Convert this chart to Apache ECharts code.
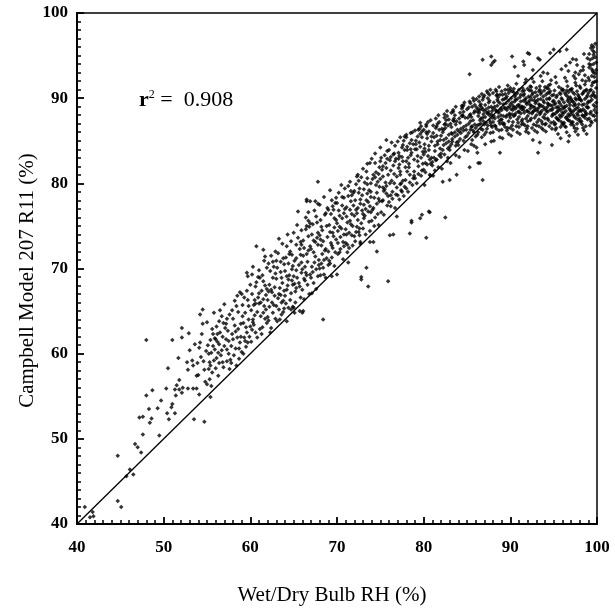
<!DOCTYPE html>
<html>
<head>
<meta charset="utf-8">
<script src="https://cdn.jsdelivr.net/npm/echarts@6/dist/echarts.min.js"></script>
<style>
  html, body { margin: 0; padding: 0; background: #fff; }
  #chart { width: 615px; height: 611px; }
</style>
</head>
<body>
<div id="chart"></div>
<script>
// Axis range and tick labels (same for both axes)
const axisMin = 40;
const axisMax = 100;
const tickStep = 10;
const tickLabels = ['40', '50', '60', '70', '80', '90', '100'];

// 1:1 reference line end points
const identityEnds = [40, 100];

// Coefficient of determination shown on the plot
const rSquared = '0.908';

// Paired readings, listed as x (wet/dry bulb RH), y (Campbell RH), x, y, ...
const obs40s = [
  40.9,42.0, 41.5,40.8, 41.8,41.4, 41.9,40.9, 44.7,48.0, 44.7,42.7, 45.1,42.0, 45.7,45.6, 46.5,45.8, 46.1,46.4,
  47.0,49.0, 46.7,49.4, 47.4,48.4, 47.6,50.5, 47.2,52.5, 47.6,52.6, 48.0,55.1, 48.7,55.7, 48.0,61.6, 48.3,53.5,
  48.4,51.9, 48.6,52.4, 49.3,53.6, 49.5,50.4, 49.7,54.5
];
const obs50s = [
  50.3,55.9, 50.5,58.3, 50.4,53.0, 50.6,52.3, 51.0,61.6, 50.9,53.7, 51.0,54.1, 51.3,55.8, 51.4,55.1, 51.3,53.0,
  51.5,56.3, 51.7,59.5, 51.8,55.8, 51.8,56.9, 52.1,63.0, 52.1,61.9, 52.1,55.4, 52.2,56.0, 52.7,59.0, 52.8,58.1,
  52.9,62.4, 52.8,55.9, 53.4,55.9, 53.8,55.9, 53.3,59.2, 53.4,58.6, 53.8,57.4, 54.0,57.5, 53.5,52.3, 54.2,64.6,
  54.5,65.2, 54.2,61.3, 54.1,60.7, 54.3,59.6, 54.1,55.2, 54.7,52.0, 54.8,56.7, 54.7,58.1, 53.0,60.4, 53.6,61.1,
  54.4,62.3, 54.6,59.1, 53.9,58.9,
  55.0,56.4, 55.4,54.9, 55.2,58.2, 55.3,57.0, 55.3,59.0, 55.5,60.1, 55.7,62.3, 55.7,60.9, 55.9,60.5, 56.1,59.5,
  56.3,60.1, 56.5,62.5, 56.7,64.4, 56.7,60.4, 56.9,63.6, 57.2,61.7, 57.3,60.5, 57.4,62.7, 57.7,59.3, 57.8,60.9,
  58.0,61.7, 58.0,64.1, 58.4,65.6, 58.6,62.9, 58.8,61.3, 58.9,62.0, 59.2,63.6, 59.4,64.8, 59.6,62.5, 59.7,61.3,
  55.1,61.0, 55.4,58.6, 55.6,57.8, 55.8,59.2, 55.9,61.8, 56.0,58.3, 56.1,63.2, 56.2,61.4, 56.4,58.9, 56.4,61.1,
  56.6,59.8, 56.8,62.0, 56.9,58.4, 57.0,60.9, 57.1,63.0, 57.3,59.1, 57.5,61.5, 57.6,64.6, 57.6,58.2, 57.9,62.3,
  58.1,59.8, 58.2,63.3, 58.3,60.6, 58.5,61.9, 58.6,64.9, 58.7,59.4, 58.9,63.5, 59.0,60.2, 59.1,65.7, 59.3,61.9,
  59.5,60.8, 59.5,63.1, 59.7,66.3, 59.8,64.0, 59.9,62.0, 55.5,56.2, 56.3,57.4, 57.8,58.9, 58.4,58.6, 59.2,60.0,
  56.5,65.1, 57.3,64.1, 58.2,66.2, 59.0,67.0, 59.6,67.4, 55.0,63.7, 55.8,64.8, 59.6,69.5, 58.8,67.2, 59.7,69.1,
  55.2,60.0, 55.6,62.9, 56.0,61.7, 56.4,63.8, 56.8,59.0, 57.2,63.5, 57.5,60.0, 57.9,65.1, 58.3,62.6, 58.7,60.6,
  59.1,64.4, 59.4,61.5, 59.8,65.6, 59.3,66.6, 58.5,66.8, 57.0,65.8, 56.2,62.3, 55.4,61.6, 54.9,60.3, 54.5,63.5
];
const obs60s = [
  60.0,63.2, 60.3,64.0, 60.6,62.5, 60.0,68.1, 60.2,67.0, 60.7,72.6, 60.1,61.4, 60.4,65.7, 60.5,66.3, 60.8,64.9,
  60.9,69.0, 60.2,62.8, 60.6,67.9, 60.3,70.2, 60.8,61.9, 60.1,65.1, 60.9,66.6, 60.4,63.4, 60.7,68.4, 60.5,64.5,
  60.2,69.3, 61.1,62.9, 61.5,64.8, 61.9,63.6, 61.5,68.5, 61.5,72.2, 61.9,70.1, 61.2,66.0, 61.3,67.4, 61.6,65.6,
  61.8,66.9, 61.0,69.8, 61.4,63.1, 61.7,68.0, 61.2,64.4, 61.9,67.6, 61.6,70.9, 61.3,62.3, 61.8,65.2, 61.0,67.1,
  61.5,66.4, 61.7,71.4, 61.1,68.9, 62.3,62.5, 62.4,63.0, 62.6,64.8, 62.0,66.3, 62.2,68.1, 62.5,67.2, 62.7,65.7,
  62.9,69.4, 62.1,70.6, 62.8,66.8, 62.4,71.5, 62.6,68.9, 62.0,64.3, 62.9,64.1, 62.2,65.5, 62.7,70.2, 62.5,66.0,
  62.3,69.7, 62.8,67.8, 62.1,67.3, 62.9,72.0, 63.1,63.8, 63.3,65.2, 63.5,66.9, 63.7,68.3, 63.9,70.5, 63.2,71.8,
  63.4,67.7, 63.6,64.6, 63.8,66.2, 63.0,68.8, 63.5,69.6, 63.9,67.4, 63.2,66.5, 63.7,72.9, 63.1,70.1, 63.4,64.0,
  63.8,71.2, 63.6,68.9, 63.3,73.5, 63.0,65.6, 63.9,65.3, 63.5,70.8, 64.2,63.8, 64.2,72.6, 64.0,66.8, 64.3,68.0,
  64.5,69.2, 64.7,67.1, 64.9,70.3, 64.1,71.3, 64.4,65.4, 64.6,72.0, 64.8,68.6, 64.0,69.7, 64.3,74.0, 64.6,66.3,
  64.9,65.5, 64.5,71.7, 64.7,73.2, 64.2,67.5, 64.8,69.9, 64.4,70.6, 64.1,65.9, 64.9,68.1,
  65.0,65.4, 65.1,64.8, 65.7,65.0, 66.0,64.8, 66.1,65.0, 65.5,76.7, 66.5,78.1, 66.5,75.0, 67.8,80.2, 66.5,77.9,
  66.7,76.6, 67.8,77.6, 66.9,77.9, 68.0,77.5, 65.0,74.2, 68.4,64.0, 69.4,69.1, 69.5,74.2,
  65.2,67.3, 65.4,68.9, 65.6,70.4, 65.8,71.6, 65.3,72.8, 65.9,69.5, 65.1,70.9, 65.7,67.9, 65.5,73.6, 65.0,69.1,
  65.8,66.6, 65.3,71.2, 65.6,68.3, 65.9,74.5, 65.2,66.0, 65.4,75.1, 65.7,72.3, 65.1,68.2, 65.9,70.7,
  66.0,67.5, 66.3,70.2, 66.2,72.4, 66.7,73.8, 66.9,69.3, 66.1,71.5, 66.4,74.6, 66.6,68.1, 66.8,67.0, 66.2,66.4,
  66.4,76.0, 66.6,70.8, 66.9,72.6, 66.0,69.9, 66.3,68.6, 66.8,74.9, 66.5,71.7, 66.1,73.3, 66.7,75.6, 66.5,69.2,
  67.0,68.9, 67.3,71.9, 67.2,69.6, 67.5,73.1, 67.7,75.4, 67.9,70.4, 67.1,74.0, 67.4,76.8, 67.6,67.6, 67.8,72.8,
  67.3,68.3, 67.5,77.9, 67.9,71.0, 67.0,72.3, 67.6,69.9, 67.2,75.2, 67.8,74.2, 67.4,70.7, 67.1,67.1, 67.7,73.6,
  67.5,71.4, 68.0,70.0, 68.2,72.7, 68.5,69.3, 68.3,74.5, 68.6,76.3, 68.8,71.2, 68.1,75.7, 68.4,73.2, 68.7,68.9,
  68.9,77.1, 68.2,70.6, 68.6,72.1, 68.0,73.9, 68.8,75.0, 68.5,78.4, 68.3,71.7, 68.9,73.7, 68.1,69.2, 68.7,76.5,
  68.4,70.1, 69.0,70.4, 69.3,73.0, 69.1,75.1, 69.6,76.9, 69.8,71.9, 69.2,74.3, 69.4,78.0, 69.7,70.3, 69.5,72.4,
  69.9,75.7, 69.2,79.2, 69.0,72.0, 69.6,73.8, 69.8,77.7, 69.3,76.4, 69.1,70.9, 69.9,73.4, 69.4,71.3, 69.7,74.8,
  69.5,77.3,
  60.6,65.9, 61.4,69.2, 62.1,63.9, 62.6,70.8, 63.3,67.0, 63.8,64.9, 64.4,68.7, 64.8,71.6, 65.3,69.8, 65.8,73.1,
  66.2,68.8, 66.7,72.1, 67.1,70.2, 67.6,76.1, 68.1,73.4, 68.5,71.0, 69.0,76.9, 69.4,72.7, 69.9,78.3,
  60.3,63.7, 61.0,65.9, 61.7,64.1, 62.4,67.5, 63.0,70.9, 63.6,66.0, 64.2,69.1, 64.7,65.2, 65.3,67.7, 65.9,72.8,
  66.4,69.5, 66.9,75.3, 67.3,73.3, 67.8,69.1, 68.2,74.9, 68.7,72.3, 69.2,70.6, 69.7,75.9
];
const obs70s = [
  70.0,69.3, 71.3,70.7, 72.8,68.7, 72.8,69.0, 73.4,70.1, 73.6,67.9, 74.6,72.0, 72.7,73.1, 74.2,73.1, 73.8,73.1,
  71.5,80.2, 72.4,81.0, 73.8,82.4, 72.3,80.8, 70.0,77.7, 72.7,78.1,
  70.1,71.7, 70.4,73.7, 70.3,76.2, 70.6,77.4, 70.8,72.6, 70.2,78.9, 70.5,74.7, 70.7,71.1, 70.9,79.4, 70.0,75.3,
  70.6,75.9, 70.4,72.3, 70.8,74.0, 70.2,76.8, 70.9,77.0, 70.5,79.8, 70.1,74.4, 70.7,73.1, 70.3,71.9, 70.8,78.3,
  71.0,73.0, 71.2,75.4, 71.5,76.9, 71.3,78.5, 71.7,73.9, 71.9,77.4, 71.1,76.1, 71.4,72.4, 71.6,79.1, 71.8,75.0,
  71.2,72.8, 71.6,77.9, 71.0,74.6, 71.9,78.9, 71.4,74.2, 71.7,76.4, 71.3,79.7, 71.8,72.7, 71.1,77.2, 71.5,75.6,
  72.0,73.8, 72.3,76.5, 72.1,78.0, 72.6,79.4, 72.8,75.3, 72.2,74.3, 72.4,77.1, 72.7,72.9, 72.5,80.3, 72.9,76.8,
  72.2,79.9, 72.6,74.7, 72.0,76.2, 72.9,78.6, 72.4,75.7, 72.7,77.6, 72.1,73.2, 72.5,78.9, 72.8,80.7, 72.3,74.9,
  73.0,74.7, 73.3,77.0, 73.1,79.3, 73.5,80.6, 73.7,75.5, 73.9,78.4, 73.2,76.2, 73.4,81.4, 73.6,77.8, 73.8,74.4,
  73.1,75.9, 73.5,78.8, 73.9,80.0, 73.0,81.7, 73.7,79.2, 73.3,74.0, 73.6,76.7, 73.2,80.1, 73.8,77.3, 73.4,78.0,
  74.0,75.6, 74.3,78.3, 74.1,80.5, 74.5,81.3, 74.7,76.4, 74.9,79.6, 74.2,77.1, 74.4,82.4, 74.6,78.9, 74.8,75.1,
  74.1,76.9, 74.5,79.8, 74.9,81.9, 74.0,82.9, 74.7,80.2, 74.3,75.0, 74.6,77.6, 74.2,81.0, 74.8,78.2, 74.4,83.5,
  75.0,84.2, 77.3,85.4, 77.8,85.5, 79.6,87.1, 75.7,85.1, 78.0,85.7, 79.8,86.1, 75.9,68.5, 76.5,74.0, 76.1,73.9,
  76.9,76.1, 78.6,75.4, 78.4,74.1, 79.8,76.3, 79.6,75.9, 77.3,79.9, 78.6,75.6,
  75.1,76.6, 75.4,79.1, 75.2,81.6, 75.6,82.4, 75.8,77.4, 75.0,80.5, 75.3,78.0, 75.5,83.3, 75.7,79.7, 75.9,81.0,
  75.2,77.9, 75.6,80.1, 75.0,82.6, 75.8,83.8, 75.4,76.3, 75.3,80.8, 75.9,78.5, 75.5,79.3, 75.1,83.0, 75.7,81.8,
  76.0,77.8, 76.3,80.3, 76.1,82.7, 76.6,83.5, 76.8,78.7, 76.2,81.5, 76.4,79.0, 76.7,84.4, 76.9,80.8, 76.5,82.1,
  76.2,77.3, 76.6,81.1, 76.0,83.9, 76.8,82.9, 76.4,78.2, 76.3,84.8, 76.9,79.5, 76.1,80.0, 76.7,77.1, 76.5,83.4,
  77.0,78.6, 77.3,81.4, 77.1,83.6, 77.6,84.5, 77.8,79.6, 77.2,82.2, 77.4,80.0, 77.7,85.0, 77.9,81.9, 77.5,83.1,
  77.2,78.1, 77.6,82.6, 77.0,84.9, 77.8,83.9, 77.4,79.2, 77.3,81.0, 77.9,80.4, 77.1,82.9, 77.7,78.5, 77.5,84.2,
  78.0,79.4, 78.3,82.3, 78.1,84.3, 78.6,85.1, 78.8,80.6, 78.2,83.0, 78.4,81.0, 78.7,86.0, 78.9,82.8, 78.5,84.0,
  78.2,79.0, 78.6,83.6, 78.0,85.4, 78.8,84.6, 78.4,80.1, 78.3,81.9, 78.9,81.4, 78.1,83.9, 78.7,79.8, 78.5,85.9,
  79.0,80.6, 79.3,83.2, 79.1,85.0, 79.6,85.8, 79.8,81.5, 79.2,84.0, 79.4,82.0, 79.7,86.7, 79.9,83.7, 79.5,84.8,
  79.2,80.0, 79.6,84.3, 79.0,86.2, 79.8,85.4, 79.4,81.1, 79.3,82.6, 79.9,82.3, 79.1,84.6, 79.7,80.9, 79.5,86.4,
  70.3,74.9, 70.8,76.5, 71.2,71.9, 71.7,78.6, 72.2,76.9, 72.6,73.9, 73.1,77.5, 73.5,79.9, 73.9,76.6, 74.4,80.7,
  74.9,77.9, 75.3,82.0, 75.7,78.8, 76.2,83.1, 76.6,80.0, 77.1,81.8, 77.5,79.0, 78.0,82.6, 78.4,84.7, 78.9,80.9,
  79.3,85.5, 79.7,83.0,
  70.1,73.0, 70.6,78.4, 71.1,74.0, 71.6,75.2, 72.0,79.1, 72.5,74.3, 73.0,76.4, 73.5,82.3, 73.9,79.0, 74.4,76.0,
  74.8,81.1, 75.3,79.5, 75.8,82.9, 76.2,78.6, 76.7,82.6, 77.2,83.2, 77.6,80.3, 78.1,81.4, 78.5,83.3, 79.0,84.0,
  79.4,86.3
];
const obs80s = [
  80.3,86.7, 80.7,76.6, 80.3,73.6, 80.6,76.7, 82.5,76.0, 82.2,80.2, 83.0,80.4, 83.8,81.0, 83.2,88.3, 82.7,87.9,
  84.5,89.0,
  80.0,81.6, 80.2,83.7, 80.4,85.3, 80.6,86.1, 80.8,82.3, 80.1,84.6, 80.5,87.2, 80.7,81.0, 80.9,84.9, 80.3,86.0,
  80.2,82.4, 80.6,83.9, 80.8,80.9, 80.4,85.8, 80.0,86.3, 80.5,83.2, 80.9,83.0, 80.1,84.1, 80.7,82.8, 80.1,79.8,
  80.8,87.4, 80.3,86.9, 81.0,82.5, 81.3,84.4, 81.1,85.9, 81.6,87.0, 81.8,83.3, 81.2,85.4, 81.4,87.6, 81.7,81.9,
  81.9,85.1, 81.5,86.7, 81.2,83.0, 81.6,84.6, 81.0,82.1, 81.8,86.3, 81.4,86.5, 81.3,83.8, 81.9,84.1, 81.5,85.6,
  81.7,88.0, 81.1,80.9, 81.6,84.9, 81.4,82.7, 82.0,83.5, 82.3,85.1, 82.1,86.4, 82.6,87.4, 82.8,84.1, 82.2,86.0,
  82.4,88.1, 82.7,82.6, 82.9,85.7, 82.5,87.0, 82.2,83.9, 82.6,85.3, 82.0,83.1, 82.8,86.8, 82.4,86.9, 82.3,84.5,
  82.9,84.9, 82.5,86.5, 82.7,88.5, 82.1,81.7, 82.6,84.7, 82.4,87.7, 83.0,84.3, 83.3,85.8, 83.1,87.0, 83.6,88.0,
  83.8,84.8, 83.2,86.6, 83.4,88.6, 83.7,83.3, 83.9,86.3, 83.5,87.6, 83.2,84.6, 83.6,86.0, 83.0,83.9, 83.8,87.3,
  83.4,87.4, 83.3,85.2, 83.9,85.7, 83.5,87.3, 83.7,89.0, 83.1,82.4, 83.6,85.5, 83.4,88.4, 84.0,84.9, 84.3,86.4,
  84.1,87.6, 84.6,88.4, 84.8,85.4, 84.2,87.1, 84.4,89.1, 84.7,83.9, 84.9,86.8, 84.5,88.0, 84.2,85.2, 84.6,86.6,
  84.0,84.5, 84.8,87.7, 84.4,87.9, 84.3,85.9, 84.9,86.3, 84.5,87.9, 84.7,89.5, 84.1,83.1, 84.6,86.2, 84.4,88.8,
  80.2,81.3, 80.6,84.4, 81.1,86.8, 81.5,82.8, 82.0,85.6, 82.4,83.4, 82.9,87.5, 83.3,84.9, 83.7,86.9, 84.2,88.3,
  84.6,85.0, 80.0,83.4, 80.4,82.2, 80.9,85.5, 81.3,81.5, 81.8,87.2, 82.3,86.3, 82.8,83.0, 83.2,85.9, 83.7,84.4,
  84.1,86.1, 84.6,89.2,
  85.3,81.9, 86.3,82.4, 86.8,80.4, 86.5,82.4, 88.8,83.6, 86.8,89.8, 88.8,90.4, 85.3,92.8, 86.8,94.5, 87.8,94.9,
  87.8,93.9, 88.2,94.4, 88.0,94.2, 89.7,91.0,
  85.0,85.6, 85.2,87.0, 85.4,88.1, 85.6,89.0, 85.8,86.0, 85.1,87.7, 85.3,89.6, 85.5,84.6, 85.7,87.4, 85.9,88.5,
  85.2,85.9, 85.4,87.3, 85.6,85.1, 85.8,88.3, 85.0,88.7, 85.5,86.6, 85.9,86.9, 85.3,88.0, 85.7,90.0, 85.1,83.8,
  85.6,86.7, 85.4,89.4, 85.8,84.4, 86.0,86.5, 86.3,87.9, 86.1,88.9, 86.6,89.3, 86.8,86.3, 86.2,88.4, 86.4,90.2,
  86.7,85.4, 86.9,88.1, 86.5,89.1, 86.2,86.8, 86.6,87.6, 86.0,85.5, 86.8,88.7, 86.4,89.6, 86.3,86.0, 86.9,87.3,
  86.5,88.6, 86.7,90.5, 86.1,84.2, 86.6,87.0, 86.4,88.3, 86.2,83.6, 87.0,86.9, 87.3,88.3, 87.1,89.2, 87.6,89.7,
  87.8,86.8, 87.2,88.7, 87.4,90.6, 87.7,85.9, 87.9,88.5, 87.5,89.5, 87.2,87.1, 87.6,88.0, 87.0,85.7, 87.8,89.0,
  87.4,90.0, 87.3,86.4, 87.9,87.7, 87.5,88.9, 87.7,91.0, 87.1,84.6, 87.6,87.4, 87.4,88.2, 87.0,90.3, 87.8,84.9,
  88.0,87.2, 88.3,88.6, 88.1,89.5, 88.6,90.1, 88.8,87.0, 88.2,89.0, 88.4,90.8, 88.7,86.2, 88.9,88.8, 88.5,89.8,
  88.2,87.6, 88.6,88.3, 88.0,86.0, 88.8,89.4, 88.4,90.3, 88.3,86.7, 88.9,88.0, 88.5,89.1, 88.7,91.3, 88.1,85.0,
  88.6,87.8, 88.4,88.5, 88.0,90.6, 88.8,85.4, 89.0,87.5, 89.3,88.9, 89.1,89.8, 89.6,90.2, 89.8,87.3, 89.2,89.3,
  89.4,91.0, 89.7,86.5, 89.9,89.0, 89.5,90.0, 89.2,87.9, 89.6,88.6, 89.0,86.3, 89.8,89.7, 89.4,90.5, 89.3,87.0,
  89.9,88.2, 89.5,89.4, 89.7,91.5, 89.1,85.3, 89.6,88.0, 89.4,88.8, 89.0,90.8, 89.8,85.8,
  85.4,86.3, 85.9,89.2, 86.2,85.7, 86.5,87.4, 86.9,90.1, 87.2,86.0, 87.5,88.4, 87.9,86.6, 88.1,87.9, 88.3,91.0,
  88.7,87.3, 89.0,88.6, 89.2,86.9, 89.5,87.8, 89.8,90.6,
  85.2,88.9, 85.7,86.2, 86.1,89.9, 86.4,86.9, 86.7,88.9, 87.1,87.8, 87.3,90.8, 87.7,87.1, 88.0,88.8, 88.4,86.4,
  88.6,89.6, 88.9,87.5, 89.1,90.4, 89.4,86.6, 89.7,88.9,
  85.5,87.8, 85.8,89.7, 86.3,88.7, 86.6,86.4, 86.8,87.7, 87.0,88.5, 87.4,86.8, 87.6,90.4, 87.8,88.1, 88.2,86.8,
  88.5,90.4, 88.7,88.4, 89.1,87.1, 89.3,89.9, 89.6,86.2, 89.9,88.0
];
const obs90s = [
  90.2,94.9, 90.5,93.7, 91.5,94.3, 92.2,95.2, 91.6,93.9, 93.2,94.7, 93.8,93.0, 94.6,95.3, 92.5,92.3, 92.0,95.3,
  93.4,94.5, 90.0,91.2, 92.3,91.4, 94.2,91.2, 92.6,85.1, 93.2,83.6, 93.4,84.8, 94.8,84.5,
  90.0,87.7, 90.3,89.1, 90.1,90.0, 90.6,90.4, 90.8,87.5, 90.2,89.5, 90.4,91.1, 90.7,86.7, 90.9,89.2, 90.5,90.2,
  90.2,88.1, 90.6,88.8, 90.0,86.5, 90.8,89.9, 90.4,90.7, 90.3,87.2, 90.9,88.4, 90.5,89.6, 90.7,91.7, 90.1,85.6,
  90.6,88.2, 90.4,88.9, 90.0,90.9, 90.8,86.0, 90.3,88.6, 91.0,87.8, 91.3,89.0, 91.1,90.1, 91.6,90.5, 91.8,87.6,
  91.2,89.6, 91.4,91.2, 91.7,86.8, 91.9,89.3, 91.5,90.3, 91.2,88.2, 91.6,88.9, 91.0,86.6, 91.8,90.0, 91.4,90.8,
  91.3,87.3, 91.9,88.5, 91.5,89.7, 91.7,91.8, 91.1,85.8, 91.6,88.3, 91.4,89.0, 91.0,91.0, 91.8,86.1, 91.3,88.7,
  92.0,87.9, 92.3,89.2, 92.1,90.2, 92.6,90.6, 92.8,87.7, 92.2,89.7, 92.4,91.3, 92.7,86.9, 92.9,89.4, 92.5,90.4,
  92.2,88.3, 92.6,89.0, 92.0,86.7, 92.8,90.1, 92.4,90.9, 92.3,87.4, 92.9,88.6, 92.5,89.8, 92.7,91.9, 92.1,85.9,
  92.6,88.4, 92.4,89.1, 92.0,91.1, 92.8,86.2, 92.3,88.8, 93.0,88.0, 93.3,89.3, 93.1,90.3, 93.6,90.7, 93.8,87.8,
  93.2,89.8, 93.4,91.4, 93.7,87.0, 93.9,89.5, 93.5,90.5, 93.2,88.4, 93.6,89.1, 93.0,86.8, 93.8,90.2, 93.4,91.0,
  93.3,87.5, 93.9,88.7, 93.5,89.9, 93.7,92.0, 93.1,86.0, 93.6,88.5, 93.4,89.2, 93.0,91.2, 93.8,86.3, 93.3,88.9,
  94.0,88.1, 94.3,89.4, 94.1,90.4, 94.6,90.8, 94.8,87.9, 94.2,89.9, 94.4,91.5, 94.7,87.1, 94.9,89.6, 94.5,90.6,
  94.2,88.5, 94.6,89.2, 94.0,86.9, 94.8,90.3, 94.4,91.1, 94.3,87.6, 94.9,88.8, 94.5,90.0, 94.7,92.1, 94.1,86.1,
  94.6,88.6, 94.4,89.3, 94.0,91.3, 94.8,86.4, 94.3,89.0,
  90.1,88.7, 90.3,86.3, 90.6,89.8, 90.9,87.1, 91.1,88.9, 91.4,87.5, 91.6,90.9, 91.9,86.4, 92.1,89.5, 92.4,87.6,
  92.7,88.5, 92.9,90.7, 93.1,87.2, 93.4,88.1, 93.6,86.5, 93.9,90.9, 94.1,88.8, 94.4,87.4, 94.6,91.6, 94.9,88.1,
  90.0,89.3, 90.2,86.8, 90.5,88.0, 90.8,90.6, 91.0,89.2, 91.3,86.9, 91.5,88.6, 91.8,89.5, 92.0,88.5, 92.3,90.1,
  92.5,86.5, 92.8,88.9, 93.0,89.6, 93.3,86.7, 93.5,88.3, 93.8,89.7, 94.0,87.6, 94.3,90.6, 94.5,86.7, 94.8,89.1,
  90.2,90.8, 90.4,87.9, 90.7,89.0, 91.0,88.4, 91.2,90.4, 91.5,87.0, 91.7,89.8, 92.0,87.3, 92.2,90.9, 92.5,88.2,
  92.8,89.7, 93.1,88.7, 93.3,90.8, 93.6,87.3, 93.8,89.0, 94.1,87.0, 94.3,88.4, 94.5,89.9, 94.8,88.6,
  90.9,92.6, 91.8,92.2, 92.6,93.3, 93.5,92.6, 94.3,92.9
];
const obsSaturated = [
  95.7,95.5, 96.5,95.7, 96.9,94.2, 97.7,93.9, 96.7,93.2, 96.5,92.0, 97.5,91.8, 96.9,91.0, 97.5,93.0, 96.7,84.9,
  95.0,95.7,
  95.0,88.1, 95.2,89.4, 95.4,90.3, 95.6,87.4, 95.8,88.6, 95.1,90.9, 95.3,86.5, 95.5,89.0, 95.7,88.0, 95.9,90.0,
  95.2,87.0, 95.4,88.4, 95.6,91.3, 95.8,87.8, 95.0,89.7, 95.5,85.8, 95.9,89.1, 95.3,88.9, 95.7,90.6, 95.1,86.9,
  95.6,89.6, 95.4,87.6, 95.8,85.3, 95.2,88.2, 95.9,87.2, 95.3,91.8, 96.0,88.3, 96.2,89.5, 96.4,90.4, 96.6,87.5,
  96.8,88.8, 96.1,91.0, 96.3,86.7, 96.5,89.1, 96.7,88.1, 96.9,90.1, 96.2,87.1, 96.4,88.5, 96.6,91.4, 96.8,87.9,
  96.0,89.8, 96.5,86.0, 96.9,89.2, 96.3,89.0, 96.7,90.7, 96.1,87.0, 96.6,89.7, 96.4,87.7, 96.8,85.6, 96.2,88.3,
  96.9,87.3, 96.3,92.4, 96.0,90.9, 97.0,88.4, 97.2,89.6, 97.4,90.5, 97.6,87.6, 97.8,88.9, 97.1,91.1, 97.3,86.8,
  97.5,89.2, 97.7,88.2, 97.9,90.2, 97.2,87.2, 97.4,88.6, 97.6,91.5, 97.8,88.0, 97.0,89.9, 97.5,86.1, 97.9,89.3,
  97.3,89.1, 97.7,90.8, 97.1,87.1, 97.6,89.8, 97.4,87.8, 97.8,85.7, 97.2,88.4, 97.9,87.4, 97.3,92.6, 97.0,91.0,
  97.5,92.3,
  95.1,89.3, 95.3,87.7, 95.6,88.8, 95.8,90.5, 96.0,86.9, 96.2,88.9, 96.5,90.9, 96.7,87.4, 96.9,88.6, 97.1,89.7,
  97.4,86.5, 97.6,88.8, 97.8,90.4, 95.0,90.4, 95.2,86.3, 95.5,87.5, 95.7,89.4, 95.9,91.1, 96.1,88.8, 96.4,86.6,
  96.6,90.2, 96.8,89.5, 97.0,86.9, 97.3,88.0, 97.5,90.0, 97.7,87.0, 97.9,89.9, 95.0,87.2, 95.3,90.1, 95.5,88.5,
  95.8,86.6, 96.0,88.0, 96.3,90.6, 96.5,87.8, 96.7,89.9, 97.0,88.1, 97.2,90.7, 97.4,89.4, 97.7,86.4, 97.9,88.5,
  95.2,92.5, 95.9,93.4, 96.4,93.8, 97.2,94.6, 97.9,92.8, 97.6,94.5,
  98.4,93.7, 98.6,92.7, 98.4,93.3, 98.0,88.5, 98.2,89.7, 98.4,90.6, 98.6,87.7, 98.8,89.0, 98.1,91.2, 98.3,86.9,
  98.5,89.3, 98.7,88.3, 98.9,90.3, 98.2,87.3, 98.4,88.7, 98.6,91.6, 98.8,88.1, 98.0,90.0, 98.5,86.2, 98.9,89.4,
  98.3,89.2, 98.7,90.9, 98.1,87.2, 98.6,89.9, 98.4,87.9, 98.8,85.8, 98.2,88.5, 98.9,87.5, 98.3,92.1, 98.0,91.4,
  98.7,92.0, 98.0,87.6, 98.3,88.0, 98.5,90.8, 98.7,86.7, 98.9,88.9, 98.1,88.6, 98.3,90.5, 98.6,88.0, 98.8,91.0,
  98.1,89.8, 98.4,86.5, 98.6,88.5, 98.8,90.1, 98.1,93.2, 98.9,94.7, 98.5,95.2,
  99.1,87.6, 99.3,88.4, 99.6,89.2, 99.8,90.1, 99.2,90.9, 99.5,91.8, 99.7,92.5, 99.4,93.4, 99.9,94.2, 99.6,95.1,
  99.3,95.9, 99.8,96.4, 99.0,88.9, 99.4,87.1, 99.7,88.6, 99.2,89.6, 99.5,90.4, 99.9,91.2, 99.1,92.1, 99.6,93.0,
  99.3,93.9, 99.8,94.8, 99.5,95.6, 99.2,94.5, 99.7,87.9, 99.0,90.6, 99.4,91.5, 99.8,92.9, 99.1,93.6, 99.6,94.0,
  99.3,91.0, 99.9,89.5, 99.5,88.0, 99.2,86.8, 99.7,90.3, 99.4,89.8, 99.9,93.3, 99.0,92.4, 99.6,96.0, 99.8,87.4,
  99.3,90.2, 99.5,94.7, 99.1,95.2, 99.7,91.9, 99.4,96.2, 99.9,88.3, 99.0,89.6, 99.2,88.2, 99.4,92.6, 99.6,90.7,
  99.8,89.0, 99.1,94.0, 99.5,93.2, 99.7,95.4, 99.3,87.3, 99.9,92.0
];

// Turn a flat x,y list into [x, y] points
function toPoints(flat) {
  const out = [];
  for (let i = 0; i + 1 < flat.length; i += 2) out.push([flat[i], flat[i + 1]]);
  return out;
}

const scatterData = [].concat(
  toPoints(obs40s), toPoints(obs50s), toPoints(obs60s),
  toPoints(obs70s), toPoints(obs80s), toPoints(obs90s), toPoints(obsSaturated)
);

const serif = '"Liberation Serif", "DejaVu Serif", serif';

function axisCommon(name) {
  return {
    type: 'value',
    min: axisMin,
    max: axisMax,
    interval: tickStep,
    name: name,
    nameLocation: 'middle',
    nameTextStyle: { fontFamily: serif, fontSize: 21, color: '#000' },
    axisLine: { show: true, lineStyle: { color: '#000', width: 2 } },
    axisTick: { show: true, inside: true, length: 7, lineStyle: { color: '#000', width: 1.8 } },
    minorTick: { show: true, splitNumber: 10, length: 4, lineStyle: { color: '#000', width: 1.5 } },
    splitLine: { show: false },
    axisLabel: {
      fontFamily: serif, fontSize: 17, fontWeight: 'bold', color: '#000',
      formatter: function (v) {
        const idx = Math.round((v - axisMin) / tickStep);
        return tickLabels[idx] !== undefined ? tickLabels[idx] : '';
      }
    }
  };
}

const chart = echarts.init(document.getElementById('chart'), null, { renderer: 'canvas' });

const xAxis = axisCommon('Wet/Dry Bulb RH (%)');
xAxis.nameGap = 61;
xAxis.nameTextStyle.padding = [0, 10, 0, 0];
xAxis.axisLabel.margin = 15;

const yAxis = axisCommon('Campbell Model 207 R11 (%)');
yAxis.nameGap = 39;
yAxis.nameMoveOverlap = false;
yAxis.nameTextStyle.padding = [0, 24, 0, 0];
yAxis.axisLabel.margin = 9;

chart.setOption({
  animation: false,
  backgroundColor: '#fff',
  grid: {
    left: 77, right: 18, top: 13, bottom: 86,
    show: true, borderColor: '#000', borderWidth: 1.5
  },
  xAxis: xAxis,
  yAxis: yAxis,
  graphic: [
    {
      type: 'text', left: 139, top: 89,
      style: {
        text: '{r|r}{s|2}{t| =  ' + rSquared + '}',
        rich: {
          r: { fontFamily: serif, fontSize: 22, fontWeight: 'bold', fill: '#000', verticalAlign: 'bottom' },
          s: { fontFamily: serif, fontSize: 12, fill: '#000', verticalAlign: 'top', padding: [0, 0, 10, 0] },
          t: { fontFamily: serif, fontSize: 22, fill: '#000', verticalAlign: 'bottom' }
        }
      }
    }
  ],
  series: [
    {
      type: 'line',
      data: [[identityEnds[0], identityEnds[0]], [identityEnds[1], identityEnds[1]]],
      symbol: 'none',
      lineStyle: { color: '#000', width: 1.3 },
      silent: true,
      z: 3
    },
    {
      type: 'scatter',
      data: scatterData,
      symbol: 'diamond',
      symbolSize: 4.5,
      itemStyle: { color: '#000' },
      silent: true,
      z: 2
    }
  ]
});
</script>
</body>
</html>
